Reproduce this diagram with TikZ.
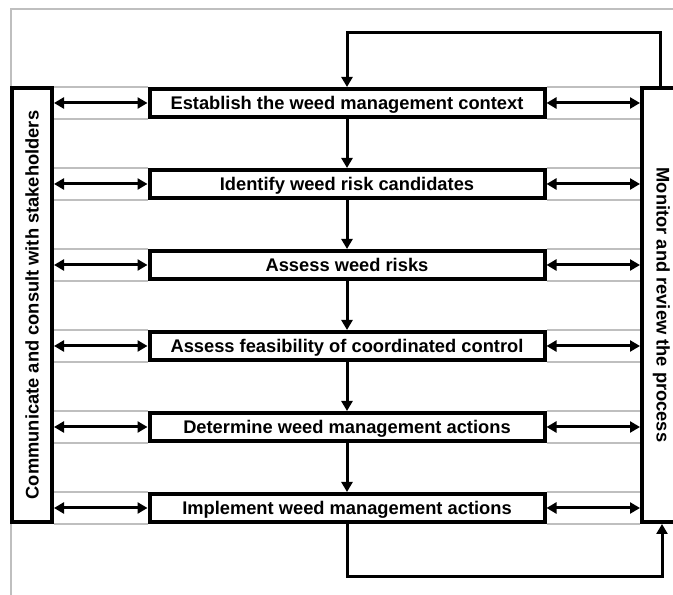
\documentclass[tikz,border=0pt]{standalone}
\usepackage{fontspec}
\setmainfont{Liberation Sans}
\usetikzlibrary{arrows.meta}
\tikzset{
  stage/.style={draw=black, line width=4pt, fill=white, minimum width=395pt, minimum height=28pt, inner sep=0pt, text height=13pt, text depth=0pt, font=\bfseries\fontsize{18.3}{22}\selectfont},
  sidebar/.style={draw=black, line width=4pt, fill=white, minimum width=434pt, inner sep=0pt, text height=13pt, text depth=0pt, font=\bfseries\fontsize{18.3}{22}\selectfont},
  flow/.style={-{Triangle[length=10pt,width=11pt]}, draw=black, line width=3pt},
  twoway/.style={{Triangle[length=10pt,width=11pt]}-{Triangle[length=10pt,width=11pt]}, draw=black, line width=3pt},
  rowline/.style={draw=black!25, line width=1.8pt},
  frame/.style={draw=black!25, line width=1.8pt}
}

\begin{document}
\begin{tikzpicture}[x=1pt,y=1pt]
  \clip (0,0) rectangle (673,595);
  \draw[frame] (673,586) -- (11,586) -- (11,0);
  \node[sidebar, minimum height=40pt, rotate=90] (comm) at (32,290) {Communicate and consult with stakeholders};
  \node[sidebar, minimum height=42pt, rotate=-90] (monitor) at (663,290) {Monitor and review the process};
  \node[stage] (s1) at (347,492) {Establish the weed management context};
  \node[stage] (s2) at (347,411) {Identify weed risk candidates};
  \node[stage] (s3) at (347,330) {Assess weed risks};
  \node[stage] (s4) at (347,249) {Assess feasibility of coordinated control};
  \node[stage] (s5) at (347,168) {Determine weed management actions};
  \node[stage] (s6) at (347,87) {Implement weed management actions};
  \foreach \s in {s1,s2,s3,s4,s5,s6} {
    \draw[rowline] (comm.south |- \s.north) -- (\s.north west);
    \draw[rowline] (comm.south |- \s.south) -- (\s.south west);
    \draw[rowline] (\s.north east) -- (monitor.south |- \s.north);
    \draw[rowline] (\s.south east) -- (monitor.south |- \s.south);
    \draw[twoway] (comm.south |- \s.west) -- (\s.west);
    \draw[twoway] (\s.east) -- (monitor.south |- \s.east);
  }
  \draw[flow] (s1) -- (s2);
  \draw[flow] (s2) -- (s3);
  \draw[flow] (s3) -- (s4);
  \draw[flow] (s4) -- (s5);
  \draw[flow] (s5) -- (s6);
  \coordinate (topturn) at (347,562);
  \coordinate (botturn) at (347,18);
  \draw[flow] ([xshift=-3pt]monitor.west) |- (topturn) -- (s1.north);
  \draw[flow] (s6.south) -- (botturn) -| ([xshift=-1pt]monitor.east);
\end{tikzpicture}
\end{document}
